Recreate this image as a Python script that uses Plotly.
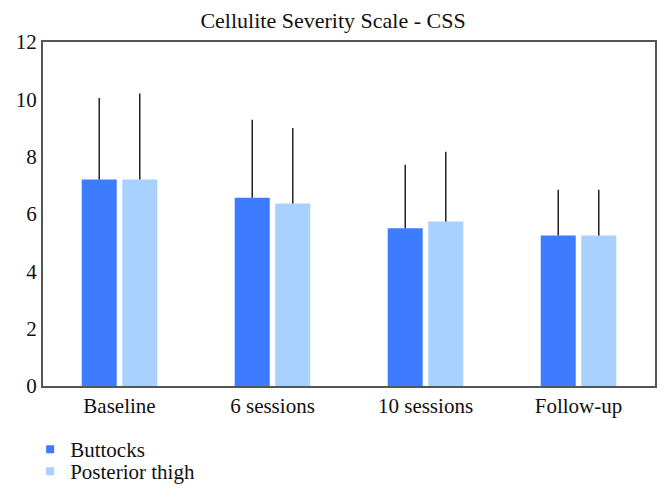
import plotly.graph_objects as go

categories = ["Baseline", "6 sessions", "10 sessions", "Follow-up"]
buttocks = [7.2, 6.57, 5.5, 5.25]
buttocks_err = [2.85, 2.72, 2.22, 1.6]
thigh = [7.2, 6.37, 5.74, 5.25]
thigh_err = [3.0, 2.63, 2.43, 1.6]
y_ticks = [0, 2, 4, 6, 8, 10, 12]

FONT = "Liberation Serif, serif"
DARK = "#3d7bff"
LIGHT = "#a9d1ff"

fig = go.Figure()
fig.add_trace(go.Bar(
    x=categories, y=buttocks, name="Buttocks", showlegend=False,
    marker=dict(color=DARK, line=dict(width=0)),
    error_y=dict(type="data", array=buttocks_err, arrayminus=[0]*4,
                 symmetric=False, width=0, thickness=1.5, color="#222222"),
))
fig.add_trace(go.Bar(
    x=categories, y=thigh, name="Posterior thigh", showlegend=False,
    marker=dict(color=LIGHT, line=dict(width=0)),
    error_y=dict(type="data", array=thigh_err, arrayminus=[0]*4,
                 symmetric=False, width=0, thickness=1.5, color="#222222"),
))
for nm, col, lg in [("Buttocks", DARK, "legend"), ("Posterior thigh", LIGHT, "legend2")]:
    fig.add_trace(go.Scatter(x=[None], y=[None], mode="markers", name=nm, legend=lg,
                             marker=dict(symbol="square", size=8, color=col)))

leg_common = dict(orientation="v", xanchor="left", yanchor="middle",
                  font=dict(family=FONT, size=21, color="#111111"), itemwidth=30,
                  bgcolor="rgba(0,0,0,0)")

fig.update_layout(
    width=654, height=481,
    margin=dict(l=35, r=7, t=34, b=103, autoexpand=False),
    paper_bgcolor="white", plot_bgcolor="white",
    font=dict(family=FONT, size=21, color="#111111"),
    title=dict(text="Cellulite Severity Scale - CSS", x=0.497, xanchor="center",
               y=0.975, yanchor="middle", font=dict(family=FONT, size=22, color="#111111")),
    barmode="group", bargap=0.47, bargroupgap=0.136,
    showlegend=True,
    legend=dict(x=-0.021, y=-0.1846, **leg_common),
    legend2=dict(x=-0.021, y=-0.2485, **leg_common),
    xaxis=dict(showline=True, mirror=True, linecolor="#555555", linewidth=2,
               ticks="", showgrid=False, tickfont=dict(family=FONT, size=21)),
    yaxis=dict(range=[0, 12], tickvals=y_ticks, showline=True, mirror=True,
               linecolor="#555555", linewidth=2, ticks="", showgrid=False,
               zeroline=False, tickfont=dict(family=FONT, size=21)),
)

fig.write_html("out.html", config={"displayModeBar": False})
